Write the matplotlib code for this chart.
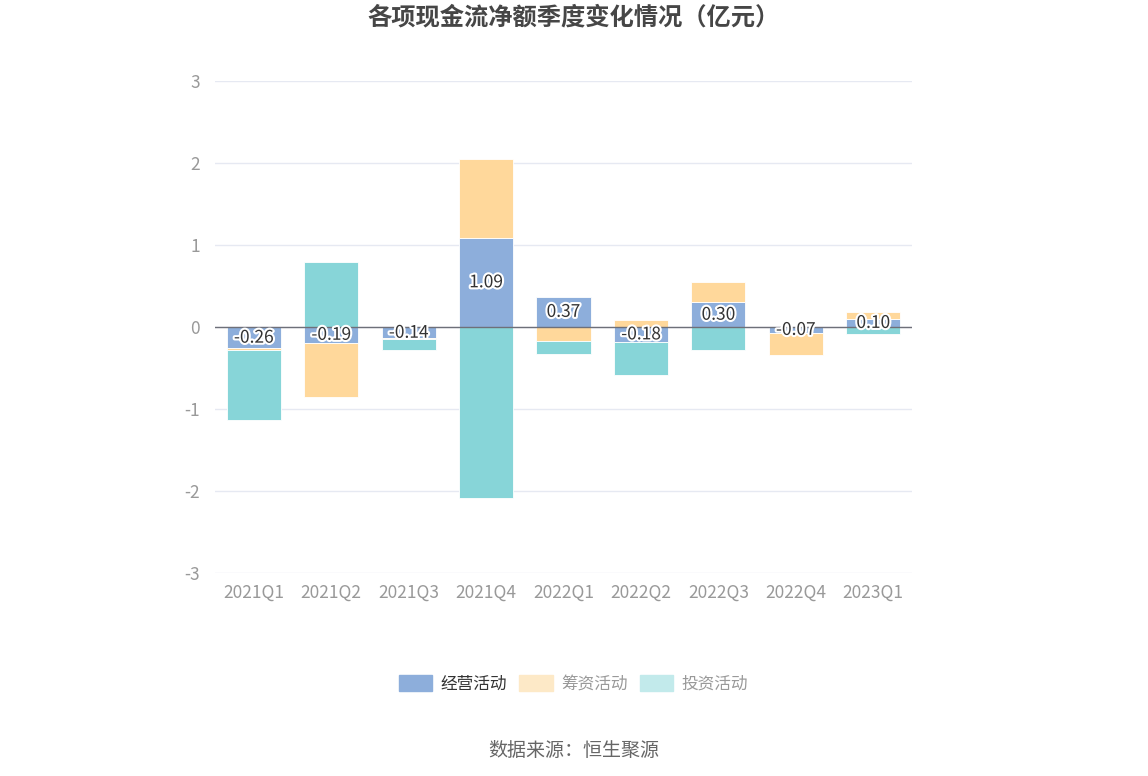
import numpy as np
import matplotlib.pyplot as plt
import matplotlib.patheffects as pe

plt.rcParams['font.family'] = ['Noto Sans CJK SC', 'DejaVu Sans']
plt.rcParams['axes.unicode_minus'] = False

quarters = ['2021Q1', '2021Q2', '2021Q3', '2021Q4', '2022Q1', '2022Q2', '2022Q3', '2022Q4', '2023Q1']
operating = [-0.26, -0.19, -0.14, 1.09, 0.37, -0.18, 0.30, -0.07, 0.10]
financing = [-0.02, -0.66, -0.01, 0.96, -0.17, 0.08, 0.25, -0.27, 0.08]
investing = [-0.85, 0.79, -0.13, -2.09, -0.16, -0.40, -0.28, 0.00, -0.08]

names = ['经营活动', '筹资活动', '投资活动']
colors = ['#8daedb', '#ffd89b', '#87d5d8']
legend_colors = ['#8daedb', '#fde9c7', '#c2eaeb']

fig = plt.figure(figsize=(11.48, 7.76), dpi=100)
ax = fig.add_axes([0.1873, 0.2616, 0.6071, 0.634])

x = np.arange(len(quarters))
pos_base = np.zeros(len(quarters))
neg_base = np.zeros(len(quarters))
handles = []
for vals, c, lc, n in zip([operating, financing, investing], colors, legend_colors, names):
    v = np.array(vals)
    bottoms = np.where(v >= 0, pos_base, neg_base)
    ax.bar(x, v, 0.7, bottom=bottoms, color=c, edgecolor='white', linewidth=0.6, zorder=3)
    pos_base = pos_base + np.where(v > 0, v, 0)
    neg_base = neg_base + np.where(v < 0, v, 0)
    handles.append(plt.Rectangle((0, 0), 1, 1, color=lc))

for i, v in enumerate(operating):
    ax.text(x[i], v / 2, f'{v:.2f}', ha='center', va='center', fontsize=12.5, color='#333333',
            zorder=5, path_effects=[pe.withStroke(linewidth=3, foreground='white')])

ax.set_xlim(-0.5, len(quarters) - 0.5)
ax.set_ylim(-3, 3)
ax.set_yticks([-3, -2, -1, 0, 1, 2, 3])
ax.set_xticks(x)
ax.set_xticklabels(quarters)
ax.tick_params(axis='both', length=0, labelsize=12.5, colors='#999999')
ax.tick_params(axis='x', pad=8)
ax.tick_params(axis='y', pad=11)
ax.grid(axis='y', color='#e6e9f2', linewidth=1, zorder=0)
ax.axhline(0, color='#6e7079', linewidth=1, zorder=4)
for s in ax.spines.values():
    s.set_visible(False)

fig.text(0.5, 0.977, '各项现金流净额季度变化情况（亿元）', ha='center', va='center',
         fontsize=17.5, fontweight='bold', color='#464646')

leg = fig.legend(handles, names, loc='center', bbox_to_anchor=(0.4996, 0.119), ncol=3, frameon=False,
                 fontsize=12, handlelength=2.0, handleheight=1.1, columnspacing=0.75, handletextpad=0.5)
for t, c in zip(leg.get_texts(), ['#333333', '#999999', '#999999']):
    t.set_color(c)

fig.text(0.5, 0.033, '数据来源：恒生聚源', ha='center', va='center', fontsize=13.7, color='#666666')

plt.savefig('out.png', dpi=100)
